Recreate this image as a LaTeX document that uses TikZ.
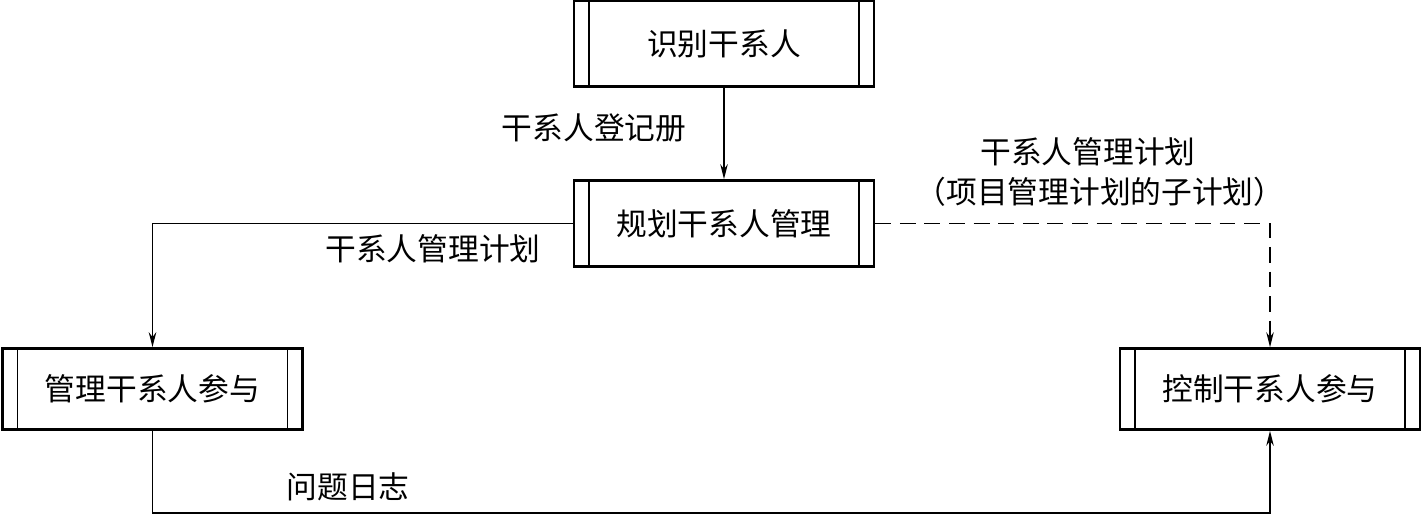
\documentclass[tikz,border=0pt]{standalone}
\usepackage{fontspec}
\newfontfamily\cjk{Noto Sans CJK SC}
\usetikzlibrary{arrows.meta}

\tikzset{
    procbox/.style={draw, line width=1.5pt, minimum width=6.0cm, minimum height=#1,
        inner sep=0pt, font=\cjk\fontsize{17.5}{20}\selectfont,
        path picture={
            \draw[line width=0.7pt] ([xshift=0.3cm]path picture bounding box.north west)
                -- ([xshift=0.3cm]path picture bounding box.south west);
            \draw[line width=0.7pt] ([xshift=-0.3cm]path picture bounding box.north east)
                -- ([xshift=-0.3cm]path picture bounding box.south east);
        }},
    procbox/.default=1.72cm,
    lbl/.style={font=\cjk\fontsize{17.5}{20}\selectfont},
    flow/.style={line width=0.8pt, -{Stealth[length=0.3cm,width=0.15cm]}}
}

\begin{document}
\begin{tikzpicture}[x=0.02cm,y=-0.02cm]
    \useasboundingbox (0,0) rectangle (1423,515);
    \node[procbox] (ident) at (724,43.5) {识别干系人};
    \node[procbox] (plan) at (724,223.5) {规划干系人管理};
    \node[procbox=1.62cm] (manage) at (152.5,389) {管理干系人参与};
    \node[procbox=1.62cm] (control) at (1270,389) {控制干系人参与};
    \coordinate (low) at (700,513);
    \draw[flow] (ident) -- (plan);
    \draw[flow] (plan.west) -| (manage.north);
    \draw[flow, dashed, dash pattern=on 9pt off 5pt] (plan.east) -| (control.north);
    \draw[flow] (manage.south) |- (low) -| (control.south);
    \node[lbl] (register) at (594,128) {干系人登记册};
    \node[lbl] (planlbl) at (433,249) {干系人管理计划};
    \node[lbl] (planlbl2) at (1088,152) {干系人管理计划};
    \node[lbl] (sublbl) at (1100,192) {（项目管理计划的子计划）};
    \node[lbl] (issuelog) at (348,487) {问题日志};
\end{tikzpicture}
\end{document}
